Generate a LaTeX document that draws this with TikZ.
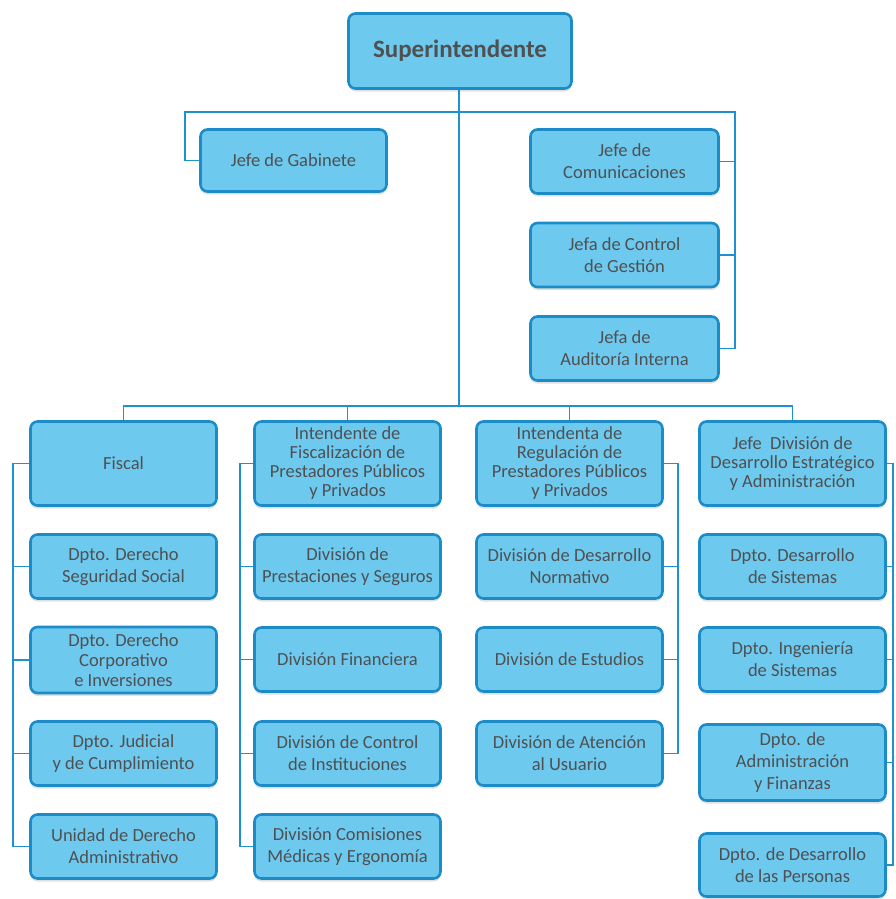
\documentclass[tikz,border=0pt]{standalone}
\usepackage{fontspec}
\setmainfont{Carlito}
\usetikzlibrary{shadows}

\definecolor{boxfill}{RGB}{110,201,238}
\definecolor{boxline}{RGB}{28,140,200}
\definecolor{wire}{RGB}{30,146,206}
\definecolor{label}{RGB}{78,80,82}

\tikzset{
  unit/.style={fill=boxfill,draw=boxline,line width=2.6pt,rounded corners=7pt,
    minimum width=186pt,minimum height=64pt,inner sep=1pt,align=center,text=label,
    font=\fontsize{18.5}{22}\selectfont,
    drop shadow={shadow xshift=0pt,shadow yshift=-3pt,fill=black,opacity=.12}},
  headunit/.style={unit,minimum height=84pt,font=\fontsize{18.5}{19}\selectfont},
  link/.style={draw=wire,line width=1.8pt}
}

\begin{document}
\begin{tikzpicture}[x=1pt,y=-1pt]
  \useasboundingbox (0,0) rectangle (895,899);

  % top level
  \node[unit,minimum width=223pt,minimum height=75pt,font=\fontsize{25}{28}\bfseries] (sup) at (460,51) {Superintendente};
  \node[unit,minimum height=62pt] (gab) at (293.5,160.5) {Jefe de Gabinete};
  \node[unit,minimum width=188pt] (com) at (624.5,161.5) {Jefe de\\Comunicaciones};
  \node[unit,minimum width=188pt] (ctl) at (624.5,255) {Jefa de Control\\de Gestión};
  \node[unit,minimum width=188pt] (aud) at (624.5,348.5) {Jefa de\\Auditoría Interna};

  % heads
  \node[headunit] (fis) at (123.5,463.5) {Fiscal};
  \node[headunit] (ifp) at (347.5,463.5) {Intendente de\\Fiscalización de\\Prestadores Públicos\\y Privados};
  \node[headunit] (irp) at (569.5,463.5) {Intendenta de\\Regulación de\\Prestadores Públicos\\y Privados};
  \node[headunit] (dea) at (792.5,463.5) {Jefe~ División de\\Desarrollo Estratégico\\y Administración};

  % fiscal
  \node[unit] (seg) at (123.5,566.5) {Dpto. Derecho\\Seguridad Social};
  \node[unit,minimum height=66pt,font=\fontsize{18.5}{20}\selectfont] (cor) at (123.5,660) {Dpto. Derecho\\Corporativo\\e Inversiones};
  \node[unit] (jud) at (123.5,753.5) {Dpto. Judicial\\y de Cumplimiento};
  \node[unit] (adm) at (123.5,846.5) {Unidad de Derecho\\Administrativo};

  % fiscalizacion
  \node[unit] (pre) at (347.5,566.5) {División de\\Prestaciones y Seguros};
  \node[unit] (fin) at (347.5,659.5) {División Financiera};
  \node[unit] (ctr) at (347.5,753.5) {División de Control\\de Instituciones};
  \node[unit] (cmd) at (347.5,846.5) {División Comisiones\\Médicas y Ergonomía};

  % regulacion
  \node[unit] (nor) at (569.5,566.5) {División de Desarrollo\\Normativo};
  \node[unit] (est) at (569.5,659.5) {División de Estudios};
  \node[unit] (ate) at (569.5,753.5) {División de Atención\\al Usuario};

  % desarrollo estrategico
  \node[unit] (sis) at (792.5,566.5) {Dpto. Desarrollo\\de Sistemas};
  \node[unit] (ing) at (792.5,659.5) {Dpto. Ingeniería\\de Sistemas};
  \node[unit,minimum height=76pt] (af) at (792.5,762.5) {Dpto. de\\Administración\\y Finanzas};
  \node[unit,minimum height=63pt] (per) at (792.5,865) {Dpto. de Desarrollo\\de las Personas};

  % buses
  \coordinate (gl) at (185,112);
  \coordinate (gr) at (735,112);
  \coordinate (bar) at (459,406);
  \path (fis.west) ++(-16,0) coordinate (spine1);
  \path (ifp.west) ++(-13,0) coordinate (spine2);
  \path (irp.east) ++(14,0) coordinate (spine3);
  \path (dea.east) ++(6,0) coordinate (spine4);

  \begin{scope}[link]
    \draw (sup.south -| bar) -- (bar);
    \draw (gab.west) -| (gl) -- (gr) |- (aud.east);
    \draw (com.east) -- (com.east -| gr);
    \draw (ctl.east) -- (ctl.east -| gr);
    \draw (fis.north) -- (fis.north |- bar) -- (dea.north |- bar) -- (dea.north);
    \draw (ifp.north) -- (ifp.north |- bar);
    \draw (irp.north) -- (irp.north |- bar);

    \draw (fis.west) -- (spine1) |- (adm.west);
    \foreach \n in {seg,cor,jud}
      \draw (\n.west) -- (\n.west -| spine1);
    \draw (ifp.west) -- (spine2) |- (cmd.west);
    \foreach \n in {pre,fin,ctr}
      \draw (\n.west) -- (\n.west -| spine2);
    \draw (irp.east) -- (spine3) |- (ate.east);
    \foreach \n in {nor,est}
      \draw (\n.east) -- (\n.east -| spine3);
    \draw (dea.east) -- (spine4) |- (per.east);
    \foreach \n in {sis,ing,af}
      \draw (\n.east) -- (\n.east -| spine4);
  \end{scope}
\end{tikzpicture}
\end{document}
